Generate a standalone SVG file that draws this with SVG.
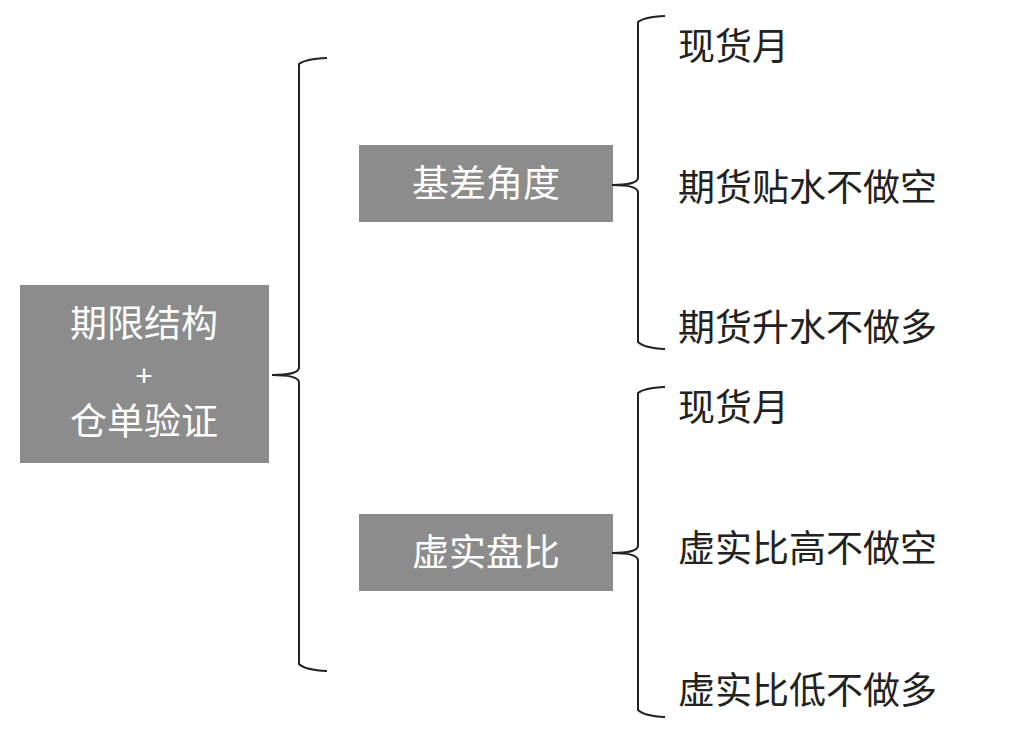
<svg xmlns="http://www.w3.org/2000/svg" width="1017" height="734" viewBox="0 0 1017 734">
<style>
.box{fill:#8c8c8c}
.bt{fill:#fff;font-family:"Noto Sans CJK SC",sans-serif;font-size:37px;text-anchor:middle}
.pl{fill:#fff;font-family:"Liberation Sans",sans-serif;font-size:30px;text-anchor:middle}
.lt{fill:#222;font-family:"Noto Sans CJK SC",sans-serif;font-size:37px}
.br{fill:none;stroke:#222;stroke-width:2}
</style>
<rect width="1017" height="734" fill="#fff"/>
<g id="root"><rect class="box" x="20" y="285" width="249" height="178"/>
<text class="bt" x="144" y="337">期限结构</text><text class="pl" x="144" y="386">+</text><text class="bt" x="144" y="435">仓单验证</text></g>
<g id="n1"><rect class="box" x="359" y="145" width="254" height="77"/><text class="bt" x="486" y="197">基差角度</text></g>
<g id="n2"><rect class="box" x="359" y="514" width="254" height="77"/><text class="bt" x="486" y="566">虚实盘比</text></g>
<g id="connectors">
<path class="br" d="M327 58 Q305 59 299 64 L299 368 Q298 375 272 375 Q298 375 299 382 L299 664 Q305 670 327 671"/>
<path class="br" d="M665 16 Q644 17 638 22 L638 178 Q637 185 612 185 Q637 185 638 192 L638 342 Q644 348 665 349"/>
<path class="br" d="M665 387 Q644 388 638 393 L638 546 Q637 553 612 553 Q637 553 638 560 L638 710 Q644 716 665 717"/>
</g>
<g id="l1"><text class="lt" x="678" y="60">现货月</text></g>
<g id="l2"><text class="lt" x="678" y="201">期货贴水不做空</text></g>
<g id="l3"><text class="lt" x="678" y="341">期货升水不做多</text></g>
<g id="l4"><text class="lt" x="678" y="421">现货月</text></g>
<g id="l5"><text class="lt" x="678" y="562">虚实比高不做空</text></g>
<g id="l6"><text class="lt" x="678" y="704">虚实比低不做多</text></g>
</svg>
